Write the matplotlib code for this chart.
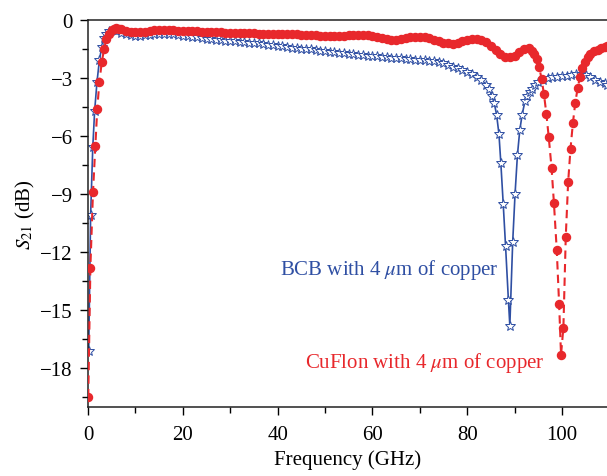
import matplotlib
matplotlib.use("Agg")
import matplotlib.pyplot as plt
from matplotlib.ticker import MultipleLocator

# BCB line (blue stars)
bcb_freq = [0.15, 0.55, 1.0, 1.4, 1.9, 2.4, 2.9, 3.4, 3.9, 4.5, 5.2,
            6, 7, 8, 9, 10, 11, 12, 13, 14, 15, 16, 17, 18, 19, 20,
            21, 22, 23, 24, 25, 26, 27, 28, 29, 30, 31, 32, 33, 34, 35,
            36, 37, 38, 39, 40, 41, 42, 43, 44, 45, 46, 47, 48, 49, 50,
            51, 52, 53, 54, 55, 56, 57, 58, 59, 60, 61, 62, 63, 64, 65,
            66, 67, 68, 69, 70, 71, 72, 73, 74, 75, 76, 77, 78, 79, 80,
            81, 82, 83, 84, 84.7, 85.2, 85.7, 86.2, 86.7, 87.1, 87.6, 88.1,
            88.7, 89.0, 89.6, 90.1, 90.6, 91.1, 91.6, 92.2, 92.7, 93.2, 93.7,
            94.3, 95, 96, 97, 98, 99, 100, 101, 102, 103, 104, 105, 106,
            107, 108, 109, 109.6]
bcb_s21 = [-17.1, -10.1, -6.6, -4.7, -3.2, -2.1, -1.4, -0.95, -0.72, -0.6, -0.56,
           -0.6, -0.68, -0.76, -0.81, -0.84, -0.83, -0.8, -0.77, -0.74, -0.72, -0.72,
           -0.74, -0.76, -0.79, -0.82,
           -0.85, -0.88, -0.92, -0.96, -1.0, -1.02, -1.04, -1.06, -1.08, -1.1,
           -1.12, -1.14, -1.16, -1.18, -1.2, -1.23, -1.26, -1.29, -1.32, -1.35,
           -1.38, -1.41, -1.44, -1.47, -1.5, -1.52, -1.54, -1.57, -1.6, -1.63,
           -1.66, -1.69, -1.72, -1.74, -1.76, -1.78, -1.81, -1.83, -1.86, -1.88,
           -1.9, -1.92, -1.94, -1.96, -1.98, -2.0, -2.02, -2.04, -2.06, -2.08,
           -2.1, -2.12, -2.15, -2.19, -2.26, -2.33, -2.42, -2.52, -2.62, -2.72,
           -2.83, -2.95, -3.12, -3.35, -3.6, -3.95, -4.3, -4.9, -5.9, -7.4, -9.5, -11.7,
           -14.5, -15.8, -11.5, -9.0, -7.0, -5.7, -4.9, -4.2, -3.95, -3.75, -3.6,
           -3.38, -3.22, -3.1, -3.03, -2.98, -2.95, -2.92, -2.9, -2.86, -2.82, -2.82,
           -2.88, -2.98, -3.1, -3.2, -3.28, -3.35]

# CuFlon line (red dots)
cuflon_freq = [0.05, 0.5, 1.05, 1.55, 1.95, 2.4, 2.9, 3.4, 3.9, 4.4, 5.0, 5.5,
               6.0, 6.5, 7, 8, 9, 10, 11, 12, 13, 14, 15, 16, 17, 18, 19, 20,
               21, 22, 23, 24, 25, 26, 27, 28, 29, 30, 31, 32, 33, 34, 35,
               36, 37, 38, 39, 40, 41, 42, 43, 44, 45, 46, 47, 48, 49, 50,
               51, 52, 53, 54, 55, 56, 57, 58, 59, 60, 61, 62, 63, 64, 65,
               66, 67, 68, 69, 70, 71, 72, 73, 74, 75, 76, 77, 78, 79, 80,
               81, 82, 83, 84, 85, 86, 87, 88, 89, 90, 91, 92, 93, 93.7, 94.2,
               94.7, 95.2, 95.7, 96.2, 96.7, 97.2, 97.8, 98.3, 98.9, 99.4, 99.8,
               100.3, 100.8, 101.3, 101.8, 102.3, 102.8, 103.3, 103.8, 104.3,
               104.8, 105.4, 106, 106.7, 107.5, 108.3, 109.0, 109.6]
cuflon_s21 = [-19.5, -12.8, -8.9, -6.5, -4.6, -3.2, -2.2, -1.5, -1.0, -0.72, -0.55, -0.48,
              -0.45, -0.46, -0.5, -0.57, -0.63, -0.66, -0.65, -0.62, -0.59, -0.56, -0.55,
              -0.55, -0.55, -0.56, -0.57, -0.58,
              -0.59, -0.6, -0.61, -0.62, -0.63, -0.64, -0.65, -0.66, -0.67, -0.67,
              -0.68, -0.69, -0.7, -0.7, -0.71, -0.72, -0.72, -0.73, -0.74, -0.74,
              -0.75, -0.75, -0.76, -0.76, -0.77, -0.78, -0.79, -0.8, -0.82, -0.83,
              -0.84, -0.84, -0.83, -0.82, -0.8, -0.79, -0.78, -0.78, -0.8, -0.83,
              -0.88, -0.94, -1.0, -1.04, -1.05, -1.02, -0.96, -0.9, -0.87, -0.87,
              -0.9, -0.96, -1.04, -1.12, -1.19, -1.23, -1.24, -1.2, -1.12, -1.04,
              -0.99, -0.98, -1.03, -1.15, -1.35, -1.58, -1.78, -1.92, -1.95, -1.86,
              -1.68, -1.53, -1.48, -1.6, -1.78,
              -2.04, -2.45, -3.07, -3.85, -4.85, -6.05, -7.65, -9.46, -11.9, -14.7, -17.3,
              -15.9, -11.2, -8.4, -6.66, -5.35, -4.3, -3.55, -2.95, -2.5,
              -2.2, -1.95, -1.78, -1.64, -1.55, -1.47, -1.42, -1.38]

blue = '#2f4fa3'
red = '#e8282c'

plt.rcParams['font.family'] = ['Liberation Serif', 'DejaVu Serif']
plt.rcParams['mathtext.fontset'] = 'stix'
plt.rcParams['font.size'] = 15

fig = plt.figure(figsize=(6.07, 4.77), dpi=100)
ax = fig.add_axes([0.145, 0.1447, 0.855, 0.812])

ax.plot(bcb_freq, bcb_s21, color=blue, lw=1.2, marker='*', ms=7.5,
        mfc='white', mec=blue, mew=0.7, zorder=2)
ax.plot(cuflon_freq, cuflon_s21, color=red, lw=1.5, ls=(0, (4, 2.5)), marker='o',
        ms=5.8, mfc=red, mec=red, zorder=3)

ax.text(40.5, -12.9, r'BCB with 4 $\mu$m of copper', color=blue, va='center', ha='left')
ax.text(45.8, -17.7, r'CuFlon with 4 $\mu$m of copper', color=red, va='center', ha='left')

ax.set_xlim(0, 109.5)
ax.set_ylim(-20, 0)
ax.xaxis.set_major_locator(MultipleLocator(20))
ax.xaxis.set_minor_locator(MultipleLocator(10))
ax.yaxis.set_major_locator(MultipleLocator(3))
ax.yaxis.set_minor_locator(MultipleLocator(1.5))
ax.tick_params(which='major', direction='out', length=6, width=1, pad=5)
ax.tick_params(which='minor', direction='out', length=4, width=1)
ax.tick_params(axis='x', which='major', pad=7)
ax.spines['right'].set_visible(False)
for s in ['left', 'bottom', 'top']:
    ax.spines[s].set_linewidth(1.1)
    ax.spines[s].set_color('#222222')

ax.set_xlabel('Frequency (GHz)', labelpad=4)
ax.set_ylabel(r'$S_{21}$ (dB)', labelpad=2)

fig.savefig('out.png', dpi=100)
